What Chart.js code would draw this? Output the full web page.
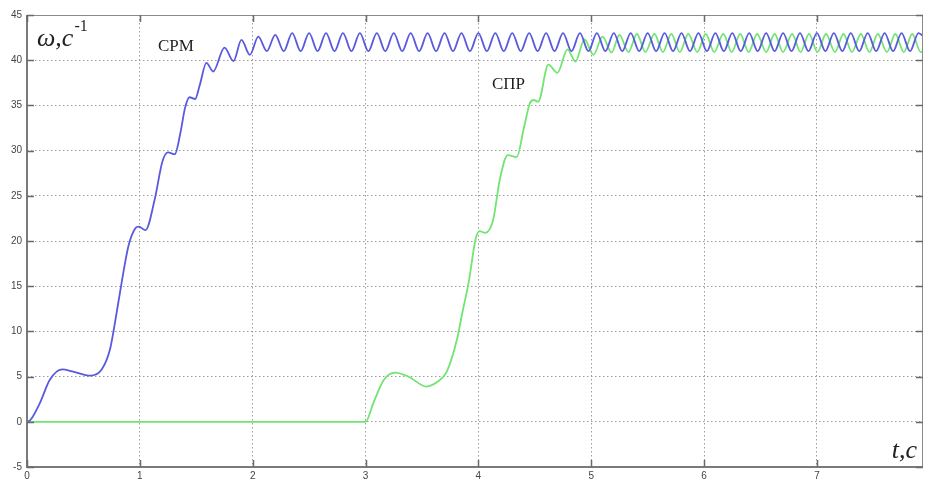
<!DOCTYPE html>
<html>
<head>
<meta charset="utf-8">
<script src="https://cdn.jsdelivr.net/npm/chart.js@4/dist/chart.umd.min.js"></script>
<style>
  html, body { margin: 0; padding: 0; background: #fff; }
  #wrap { width: 925px; height: 482px; position: relative; }
</style>
</head>
<body>
<div id="wrap"><canvas id="c" width="925" height="482"></canvas></div>
<script>
// Run-up of rotor speed ω (1/s) versus time t (s) for two drives.

// СРМ: time points (s)
const smTimes = [
  0, 0.03, 0.115, 0.20, 0.31, 0.41, 0.56, 0.66, 0.735, 0.78, 0.84, 0.90, 0.96, 0.99, 1.05,
  1.13, 1.20, 1.25, 1.31, 1.36, 1.40, 1.44, 1.49, 1.53, 1.59, 1.65, 1.75, 1.83, 1.90, 1.975,
  2.05, 2.125, 2.20, 2.275, 2.35, 2.425, 2.50, 2.575, 2.65, 2.725, 2.80, 2.875, 2.95, 3.025,
  3.10, 3.175, 3.25, 3.325, 3.40, 3.475, 3.55, 3.625, 3.70, 3.775, 3.85, 3.925, 4.00, 4.075,
  4.15, 4.225, 4.30, 4.375, 4.45, 4.525, 4.60, 4.675, 4.75, 4.825, 4.90, 4.975, 5.05, 5.125,
  5.20, 5.275, 5.35, 5.425, 5.50, 5.575, 5.65, 5.725, 5.80, 5.875, 5.95, 6.025, 6.10, 6.175,
  6.25, 6.325, 6.40, 6.475, 6.55, 6.625, 6.70, 6.775, 6.85, 6.925, 7.00, 7.075, 7.15, 7.225,
  7.30, 7.375, 7.45, 7.525, 7.60, 7.675, 7.75, 7.825, 7.90, 7.94
];
// СРМ: speed ω (1/s)
const smOmega = [
  0, 0.2, 2.1, 4.6, 5.8, 5.55, 5.1, 5.75, 8.0, 11.0, 15.5, 19.5, 21.4, 21.6, 21.2,
  24.5, 28.8, 29.8, 29.6, 32.0, 34.7, 35.9, 35.7, 37.2, 39.7, 38.75, 41.4, 39.9, 42.25, 40.6,
  42.6, 41.0, 42.8, 41.0, 43.0, 41.0, 43.0, 41.0, 43.0, 41.0, 43.0, 41.0, 43.0, 41.0,
  43.0, 41.0, 43.0, 41.0, 43.0, 41.0, 43.0, 41.0, 43.0, 41.0, 43.0, 41.0, 43.0, 41.0,
  43.0, 41.0, 43.0, 41.0, 43.0, 41.0, 43.0, 41.0, 43.0, 41.0, 43.0, 41.0, 43.0, 41.0,
  43.0, 41.0, 43.0, 41.0, 43.0, 41.0, 43.0, 41.0, 43.0, 41.0, 43.0, 41.0, 43.0, 41.0,
  43.0, 41.0, 43.0, 41.0, 43.0, 41.0, 43.0, 41.0, 43.0, 41.0, 43.0, 41.0, 43.0, 41.0,
  43.0, 41.0, 43.0, 41.0, 43.0, 41.0, 43.0, 41.0, 43.0, 42.7
];

// СПР: time points (s)
const sprTimes = [
  0, 3.0, 3.07, 3.16, 3.26, 3.38, 3.54, 3.64, 3.72, 3.81, 3.86, 3.915, 3.975, 4.01, 4.06,
  4.13, 4.19, 4.26, 4.34, 4.40, 4.455, 4.49, 4.53, 4.62, 4.70, 4.79, 4.86, 4.94, 5.02,
  5.10, 5.18, 5.25, 5.33, 5.405, 5.48, 5.56, 5.635, 5.71, 5.785, 5.86, 5.94, 6.015, 6.09,
  6.17, 6.245, 6.32, 6.395, 6.47, 6.55, 6.625, 6.70, 6.78, 6.855, 6.93, 7.005, 7.08, 7.16,
  7.235, 7.31, 7.39, 7.465, 7.54, 7.62, 7.695, 7.77, 7.845, 7.92, 7.94
];
// СПР: speed ω (1/s)
const sprOmega = [
  0, 0, 2.1, 4.6, 5.45, 5.0, 3.9, 4.45, 5.55, 9.1, 12.2, 15.5, 20.2, 21.1, 20.9,
  22.3, 26.8, 29.5, 29.3, 32.3, 35.2, 35.6, 35.4, 39.5, 38.6, 41.2, 39.85, 42.3, 40.6,
  42.6, 40.85, 42.8, 40.9, 42.9, 40.9, 42.9, 40.9, 42.9, 40.9, 42.9, 40.9, 42.9, 40.9,
  42.9, 40.9, 42.9, 40.9, 42.9, 40.9, 42.9, 40.9, 42.9, 40.9, 42.9, 40.9, 42.9, 40.9,
  42.9, 40.9, 42.9, 40.9, 42.9, 40.9, 42.9, 40.9, 42.9, 40.9, 41.0
];

// Axis ranges and tick steps
const tRange = [0, 7.94];
const omegaRange = [-5, 45];
const tStep = 1;
const omegaStep = 5;

const toPoints = (xs, ys) => xs.map((x, i) => ({ x, y: ys[i] }));

// Frame with inward tick marks and text captions
const framePlugin = {
  id: 'frame',
  afterDatasetsDraw(chart) {
    const { ctx, chartArea: a, scales } = chart;
    const xs = scales.x, ys = scales.y;
    ctx.save();
    ctx.strokeStyle = '#8a8a8a';
    ctx.lineWidth = 1;
    ctx.beginPath();
    ctx.moveTo(a.left, a.top + 0.5); ctx.lineTo(a.right, a.top + 0.5);
    ctx.moveTo(a.right - 0.5, a.top); ctx.lineTo(a.right - 0.5, a.bottom);
    ctx.stroke();
    ctx.strokeStyle = '#7a7a7a';
    ctx.lineWidth = 2;
    ctx.beginPath();
    ctx.moveTo(a.left, a.top); ctx.lineTo(a.left, a.bottom);
    ctx.lineTo(a.right, a.bottom);
    ctx.stroke();

    ctx.strokeStyle = '#6a6a6a';
    ctx.lineWidth = 1.5;
    const tl = 7;
    ctx.beginPath();
    xs.ticks.forEach(t => {
      const px = Math.round(xs.getPixelForValue(t.value)) + 0.5;
      ctx.moveTo(px, a.bottom); ctx.lineTo(px, a.bottom - tl);
      ctx.moveTo(px, a.top); ctx.lineTo(px, a.top + tl);
    });
    ys.ticks.forEach(t => {
      const py = Math.round(ys.getPixelForValue(t.value)) + 0.5;
      ctx.moveTo(a.left, py); ctx.lineTo(a.left + tl, py);
      ctx.moveTo(a.right, py); ctx.lineTo(a.right - tl, py);
    });
    ctx.stroke();

    // axis captions
    ctx.fillStyle = '#222';
    ctx.textBaseline = 'alphabetic';
    ctx.font = 'italic 26px "Liberation Serif"';
    const wLabel = 'ω,с';
    const wx = a.left + 10, wy = a.top + 31;
    ctx.fillText(wLabel, wx, wy);
    const ww = ctx.measureText(wLabel).width;
    ctx.font = '16px "Liberation Serif"';
    ctx.fillText('-1', wx + ww + 1, wy - 15);

    ctx.font = 'italic 26px "Liberation Serif"';
    ctx.textAlign = 'right';
    ctx.fillText('t,с', a.right - 6, a.bottom - 9);

    // series captions
    ctx.textAlign = 'left';
    ctx.fillStyle = '#1e1e1e';
    ctx.font = '17px "Liberation Serif"';
    ctx.fillText('СРМ', xs.getPixelForValue(1.16), ys.getPixelForValue(41.0));
    ctx.fillText('СПР', xs.getPixelForValue(4.12), ys.getPixelForValue(36.8));
    ctx.restore();
  }
};

new Chart(document.getElementById('c'), {
  type: 'line',
  data: {
    datasets: [
      {
        label: 'СРМ',
        data: toPoints(smTimes, smOmega),
        borderColor: '#5a5ade',
        borderWidth: 1.8,
        pointRadius: 0,
        fill: false,
        cubicInterpolationMode: 'monotone'
      },
      {
        label: 'СПР',
        data: toPoints(sprTimes, sprOmega),
        borderColor: '#72e472',
        borderWidth: 1.8,
        pointRadius: 0,
        fill: false,
        cubicInterpolationMode: 'monotone'
      }
    ]
  },
  options: {
    responsive: false,
    animation: false,
    layout: { padding: { top: 15, right: 2, left: 0, bottom: 0 } },
    plugins: { legend: { display: false }, tooltip: { enabled: false } },
    scales: {
      x: {
        type: 'linear',
        min: tRange[0],
        max: tRange[1],
        afterFit: s => { s.height = 15; },
        ticks: {
          stepSize: tStep,
          includeBounds: false,
          autoSkip: false,
          maxRotation: 0,
          padding: 3,
          color: '#444',
          font: { family: '"Liberation Sans", Arial', size: 10 }
        },
        grid: { color: '#9a9a9a', lineWidth: 1, drawTicks: false },
        border: { display: false, dash: [1.5, 2.5] }
      },
      y: {
        type: 'linear',
        min: omegaRange[0],
        max: omegaRange[1],
        afterFit: s => { s.width = 27; },
        ticks: {
          stepSize: omegaStep,
          padding: 5,
          color: '#444',
          font: { family: '"Liberation Sans", Arial', size: 10 }
        },
        grid: { color: '#9a9a9a', lineWidth: 1, drawTicks: false },
        border: { display: false, dash: [1.5, 2.5] }
      }
    }
  },
  plugins: [framePlugin]
});
</script>
</body>
</html>
